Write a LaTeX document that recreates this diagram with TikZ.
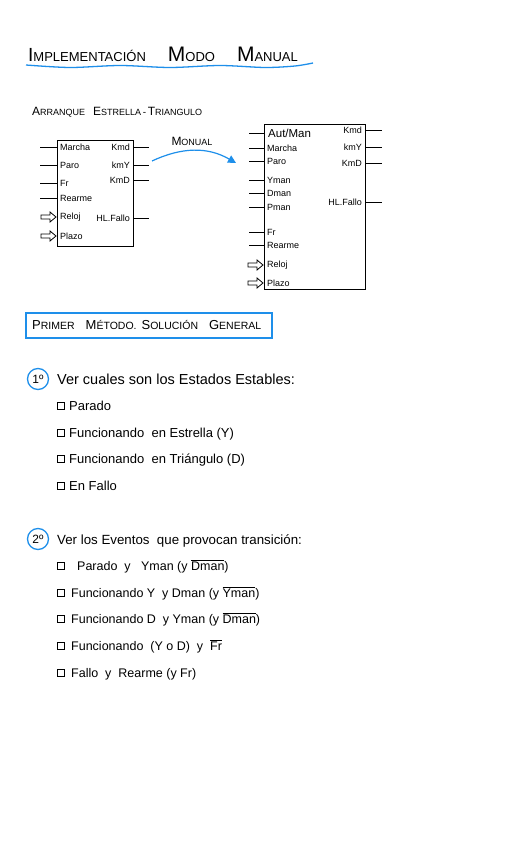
\documentclass[tikz,border=0pt]{standalone}
\usepackage{fontspec}
\setmainfont{Liberation Sans}
\usetikzlibrary{arrows.meta}
\definecolor{hblue}{HTML}{1E8FEA}
\newcommand{\ovl}[1]{$\overline{\mbox{#1}}$}
\newcommand{\fs}[1]{\fontsize{#1}{#1}\selectfont}
\begin{document}
\begin{tikzpicture}[x=1pt,y=-1pt,
  pinlbl/.style={inner sep=0pt,font=\fs{9}},
  blk/.style={draw,line width=1.3pt,inner sep=0pt},
  pinline/.style={line width=0.8pt},
  hollow/.style={line width=0.8pt,fill=white},
  body/.style={inner sep=0pt,anchor=base west,font=\fs{14}},
  item/.style={inner sep=0pt,anchor=base west,font=\fs{12.5}},
  chk/.style={draw,line width=0.9pt,minimum width=7pt,minimum height=7pt,inner sep=0pt},
  num/.style={draw=hblue,circle,line width=1.3pt,minimum size=21pt,inner sep=0pt,font=\fs{12}}]
\useasboundingbox (0,0) rectangle (526,848);

% Title
\node[inner sep=0pt,anchor=base west] (title) at (28,62)
  {{\fs{19}I}{\fs{13}MPLEMENTACIÓN}\hspace{22pt}{\fs{21}M}{\fs{13}ODO}\hspace{22pt}{\fs{21}M}{\fs{13}ANUAL}};
\draw[hblue,line width=1.3pt] plot[smooth] coordinates {(26,65) (70,67.5) (120,65.5) (170,67.5) (220,65.5) (265,67.5) (295,66) (313,63)};

% Subtitle
\node[inner sep=0pt,anchor=base west] (sub) at (32,116)
  {{\fs{12}A}{\fs{9}RRANQUE}\hspace{8pt}{\fs{12}E}{\fs{9}STRELLA}\,-\,{\fs{12}T}{\fs{9}RIANGULO}};

% Left block
\node[blk,minimum width=76pt,minimum height=106pt,anchor=north west] (bA) at (57,140) {};
\foreach \n/\t/\y in {am/Marcha/147,ap/Paro/165,af/Fr/183,ar/Rearme/198}{
  \node[pinlbl,anchor=west] (\n) at (60,\y) {\t};
  \draw[pinline] (\n.west -| bA.west) -- ++(-17,0);
}
\foreach \n/\t/\y in {ac/Reloj/217,az/Plazo/236}{
  \node[pinlbl,anchor=west] (\n) at (60,\y) {\t};
  \draw[hollow] (\n.west -| bA.west) ++(-1,0) -- ++(-6,-5) -- ++(0,3) -- ++(-9,0) -- ++(0,4) -- ++(9,0) -- ++(0,3) -- cycle;
}
\foreach \n/\t/\y in {ao1/Kmd/147,ao2/kmY/165,ao3/KmD/180,ao4/HL.Fallo/218}{
  \node[pinlbl,anchor=east] (\n) at (130,\y) {\t};
  \draw[pinline] (\n.east -| bA.east) -- ++(15,0);
}

% Arrow Manual
\coordinate (ms) at (152,161);
\coordinate (me) at (236,163);
\draw[hblue,line width=1.2pt,-{Triangle[length=8pt,width=8pt]}] (ms) to[out=25,in=150] (me);
\node[inner sep=0pt,anchor=base] (mlbl) at (192,146) {{\fs{12}M}{\fs{9}ONUAL}};

% Right block
\node[blk,minimum width=101pt,minimum height=165pt,anchor=north west] (bB) at (264,124) {};
\node[pinlbl,anchor=west,font=\fs{11.5}] (bam) at (268,133) {Aut/Man};
\draw[pinline] (bam.west -| bB.west) -- ++(-15,0);
\foreach \n/\t/\y in {bm/Marcha/148,bp/Paro/161,by/Yman/180,bd/Dman/193,bpm/Pman/207,bf/Fr/232,br/Rearme/245}{
  \node[pinlbl,anchor=west] (\n) at (267,\y) {\t};
  \draw[pinline] (\n.west -| bB.west) -- ++(-15,0);
}
\foreach \n/\t/\y in {bc/Reloj/265,bz/Plazo/283}{
  \node[pinlbl,anchor=west] (\n) at (267,\y) {\t};
  \draw[hollow] (\n.west -| bB.west) ++(-1,0) -- ++(-6,-5) -- ++(0,3) -- ++(-9,0) -- ++(0,4) -- ++(9,0) -- ++(0,3) -- cycle;
}
\foreach \n/\t/\y in {bo1/Kmd/130,bo2/kmY/147,bo3/KmD/163,bo4/HL.Fallo/202}{
  \node[pinlbl,anchor=east] (\n) at (362,\y) {\t};
  \draw[pinline] (\n.east -| bB.east) -- ++(16,0);
}

% Section box
\node[draw=hblue,line width=1.6pt,minimum width=246pt,minimum height=25pt,anchor=north west,inner sep=0pt] (sec) at (25,312) {};
\node[inner sep=0pt,anchor=base west] (sect) at (32,329.5)
  {{\fs{13}P}{\fs{10.5}RIMER}\hspace{11pt}{\fs{13}M}{\fs{10.5}ÉTODO.}\hspace{5pt}{\fs{13}S}{\fs{10.5}OLUCIÓN}\hspace{11pt}{\fs{13}G}{\fs{10.5}ENERAL}};

% Step 1
\node[num] (n1) at (38,379) {1º};
\node[body,font=\fs{14.5}] (t1) at (57,384) {Ver cuales son los Estados Estables:};
\foreach \n/\t/\y in {s1/Parado/406,s2/Funcionando\ \ en Estrella (Y)/433,s3/Funcionando\ \ en Triángulo (D)/459,s4/En Fallo/486}{
  \node[chk] (c\n) at (61,\y) {};
  \node[body,font=\fs{13}] (\n) at (69,\y+4.5) {\t};
}

% Step 2
\node[num] (n2) at (38,539) {2º};
\node[body,font=\fs{13.3}] (t2) at (57,544) {Ver los Eventos\ \ que provocan transición:};
\node[chk] (cu1) at (61,566) {};
\node[item] (u1) at (77,570.5) {Parado\ \ y\ \ \ Yman (y \ovl{Dman})};
\node[chk] (cu2) at (61,593) {};
\node[item] (u2) at (71,597.5) {Funcionando\ Y\ \ y Dman (y \ovl{Yman})};
\node[chk] (cu3) at (61,619) {};
\node[item] (u3) at (71,623.5) {Funcionando D\ \ y Yman (y \ovl{Dman})};
\node[chk] (cu4) at (61,646) {};
\node[item] (u4) at (71,650.5) {Funcionando\ \ (Y o D)\ \ y\ \ \ovl{Fr}};
\node[chk] (cu5) at (61,673) {};
\node[item] (u5) at (71,677.5) {Fallo\ \ y\ \ Rearme (y Fr)};
\end{tikzpicture}
\end{document}
